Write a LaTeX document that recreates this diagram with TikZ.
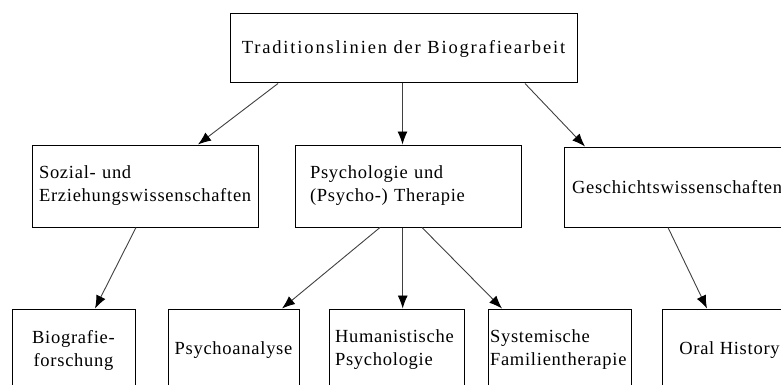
\documentclass[tikz,border=0pt]{standalone}
\usepackage{fontspec}
\setmainfont{Liberation Serif}
\newfontfamily\boxfont[LetterSpace=4]{Liberation Serif}
\newfontfamily\titlefont[LetterSpace=10]{Liberation Serif}
\usetikzlibrary{arrows.meta,calc}

\begin{document}
\begin{tikzpicture}
[x=1pt,y=-1pt]
\tikzset{bx/.style={draw, line width=1pt, minimum height=82pt, inner sep=0pt, font=\boxfont\fontsize{18.5}{23}\selectfont}}
\tikzset{lft/.style={align=left, text width=#1}}
\useasboundingbox (0,0) rectangle (781,385);
\node [bx, minimum width=347pt, minimum height=69pt, font=\titlefont\fontsize{18.5}{23}\selectfont] (trad) at (403.5,48.5) {Traditionslinien der Biografiearbeit};
\node [bx, inner xsep=7pt, lft=212pt] (sozial) at (145,186) {Sozial- und\\Erziehungswissenschaften};
\node [bx, inner xsep=15pt, lft=196pt] (psych) at (408,186) {Psychologie und\\(Psycho-) Therapie};
\node [bx, inner xsep=8pt, lft=210pt, minimum height=80pt] (gesch) at (677,187) {Geschichtswissenschaften};
\node [bx, minimum width=123pt, align=center] (bio) at (73.5,350) {Biografie-\\forschung};
\node [bx, minimum width=131pt] (psa) at (233.5,350) {Psychoanalyse};
\node [bx, inner xsep=6pt, lft=123pt] (hum) at (396.5,350) {Humanistische\\Psychologie};
\node [bx, inner xsep=2pt, lft=139pt] (sys) at (559.5,350) {Systemische\\Familientherapie};
\node [bx, minimum width=135pt] (oral) at (729.5,350) {Oral History};

\foreach \from/\fx/\to/\tx in {trad/-125.5/sozial/53,trad/-1/psych/-5.5,trad/121.5/gesch/-92,sozial/-9/bio/21.5,psych/-28/psa/48.5,psych/-5.3/hum/6.2,psych/14/sys/-57.5,gesch/-9/oral/-22.5}
	\draw [-{Latex[length=13pt,width=10pt,color=black]}, line width=0.9pt, black!75] ($(\from.south)+(\fx,0)$) -- ($(\to.north)+(\tx,0)$);
\end{tikzpicture}
\end{document}
